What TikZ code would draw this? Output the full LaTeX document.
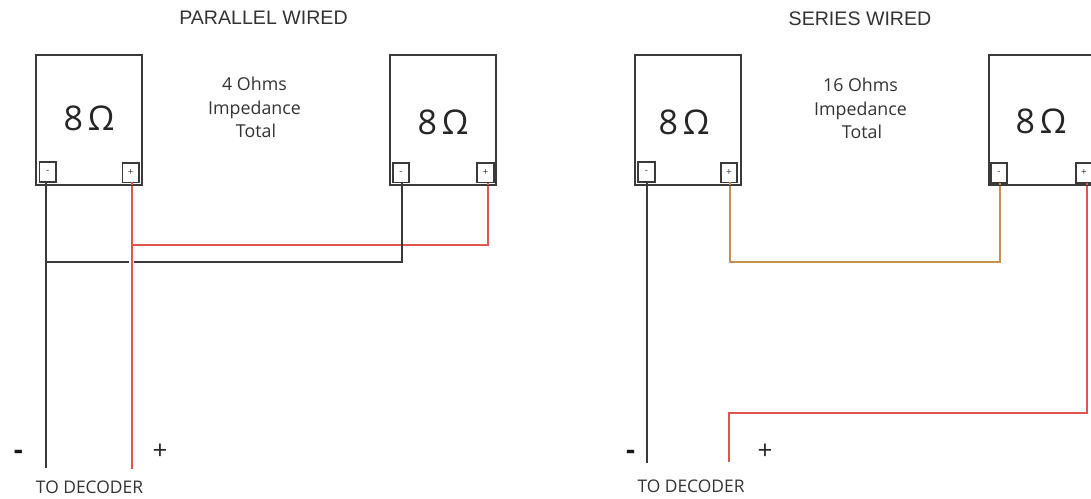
\documentclass[tikz,border=0pt]{standalone}
\usepackage{fontspec}
\setmainfont{Open Sans}
\newfontfamily\titlefont{Liberation Sans}
\definecolor{ink}{HTML}{3A3A3A}
\definecolor{wirered}{HTML}{E0564E}
\definecolor{wireorange}{HTML}{C98F4E}
\tikzset{
  speaker/.style={draw=ink,line width=1.7pt,fill=white,minimum width=106pt,minimum height=130pt,inner sep=0pt,outer sep=0pt},
  ohm/.style={font=\fontsize{34}{34}\selectfont,text=black!85,inner sep=0pt},
  terminal/.style={draw=ink,line width=1.7pt,fill=white,minimum width=16.5pt,minimum height=19.5pt,inner sep=0pt,outer sep=0pt,font=\fontsize{10}{10}\selectfont,text=ink},
  title/.style={font=\titlefont\fontsize{19.6}{22}\selectfont,text=black!80,inner sep=0pt},
  note/.style={font=\fontsize{17.8}{23.5}\selectfont,align=center,text=black!80,inner sep=0pt},
  decoder/.style={font=\fontsize{17.4}{18}\selectfont,text=black!80,inner sep=0pt},
  sign/.style={font=\fontsize{26}{26}\selectfont,text=black!85,inner sep=0pt},
  minus/.style={font=\bfseries\fontsize{28}{28}\selectfont,text=black!90,inner sep=0pt},
  blackwire/.style={draw=ink,line width=1.6pt},
  redwire/.style={draw=wirered,line width=1.7pt},
  orangewire/.style={draw=wireorange,line width=1.7pt}
}
\begin{document}
\begin{tikzpicture}[x=1pt,y=-1pt]
\useasboundingbox (0,0) rectangle (1091,498);
\clip (0,0) rectangle (1091,498);
% titles and notes
\node[title] (t1) at (263.5,17.5) {PARALLEL WIRED};
\node[title] (t2) at (860,19) {SERIES WIRED};
\node[note] (n1) at (254.5,107.5) {4 Ohms\\Impedance\\\hspace{3pt}Total};
\node[note] (n2) at (860.5,108.7) {16 Ohms\\Impedance\\\hspace{3pt}Total};
% coordinates for free ends and bends
\coordinate (e1) at (46,468);
\coordinate (e2) at (132,469);
\coordinate (e3) at (647,463);
\coordinate (e4) at (729,462);
\coordinate (jr) at (132,245);
\coordinate (jb) at (46,262);
\coordinate (gapa) at (128.5,262);
\coordinate (gapb) at (133.5,262);
\coordinate (xa) at (402,262);
\coordinate (xb) at (488,245);
\coordinate (ob) at (730,262);
\coordinate (oc) at (1000,262);
\coordinate (rb) at (1087,413);
\coordinate (rc) at (729,413);
% wires (behind the speakers)
\draw[blackwire] (e1) -- (46,170);
\draw[redwire] (e2) -- (132,170);
\draw[redwire] (jr) -- (xb) -- (488,170);
\draw[blackwire] (jb) -- (gapa);
\draw[blackwire] (gapb) -- (xa) -- (402,170);
\draw[blackwire] (e3) -- (647,170);
\draw[orangewire] (730,170) -- (ob) -- (oc) -- (1000,170);
\draw[redwire] (1087,170) -- (rb) -- (rc) -- (e4);
% speakers
\node[speaker] (s1) at (89.2,120) {};
\node[speaker] (s2) at (443,120.2) {};
\node[speaker] (s3) at (688.2,120) {};
\node[speaker] (s4) at (1041.8,120.2) {};
\node[ohm] (o1) at (89,118.5) {8\hspace{0.14em}Ω};
\node[ohm] (o2) at (443,122) {8\hspace{0.14em}Ω};
\node[ohm] (o3) at (684,122) {8\hspace{0.14em}Ω};
\node[ohm] (o4) at (1041,121) {8\hspace{0.14em}Ω};
% terminals
\node[terminal] (a1) at (47.8,172) {-};
\node[terminal] (b1) at (130.8,172.6) {+};
\node[terminal] (a2) at (401,172.6) {-};
\node[terminal] (b2) at (485.5,172.8) {+};
\node[terminal] (a3) at (646.5,172) {-};
\node[terminal] (b3) at (729,172.6) {+};
\node[terminal] (a4) at (999,173) {-};
\node[terminal] (b4) at (1084,173) {+};
% wire stubs from the terminals to the speaker edge
\draw[blackwire] (a1.south -| e1) -- (s1.south -| e1);
\draw[redwire] (b1.south -| e2) -- (s1.south -| e2);
\draw[blackwire] (a2.south -| xa) -- (s2.south -| xa);
\draw[redwire] (b2.south -| xb) -- (s2.south -| xb);
\draw[blackwire] (a3.south -| e3) -- (s3.south -| e3);
\draw[orangewire] (b3.south -| ob) -- (s3.south -| ob);
\draw[orangewire] (a4.south -| oc) -- (s4.south -| oc);
\draw[redwire] (b4.south -| rb) -- (s4.south -| rb);
% labels
\node[minus] (m1) at (18.5,455) {-};
\node[sign] (p1) at (160,452) {+};
\node[minus] (m2) at (630.5,455) {-};
\node[sign] (p2) at (765,452) {+};
\node[decoder] (d1) at (89.5,487.5) {TO DECODER};
\node[decoder] (d2) at (691,486.5) {TO DECODER};
\end{tikzpicture}
\end{document}
